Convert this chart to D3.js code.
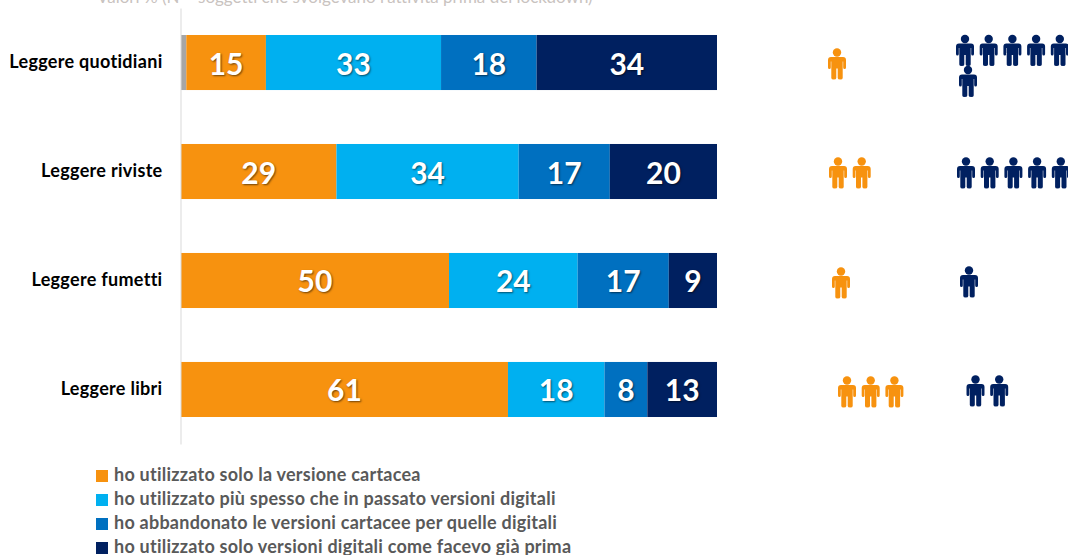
<!DOCTYPE html>
<html>
<head>
<meta charset="utf-8">
<script src="https://cdn.jsdelivr.net/npm/d3@7"></script>
<style>
  html, body { margin: 0; background: #fff; }
  svg { display: block; font-family: Lato, "Open Sans", sans-serif; }
  .value { text-shadow: 1px 1px 2px rgba(0,0,0,.55); }
</style>
</head>
<body>
<svg id="chart" width="1068" height="555"></svg>
<script>
const categories = ["Leggere quotidiani", "Leggere riviste", "Leggere fumetti", "Leggere libri"];
const seriesKeys = ["nd", "carta", "piuSpesso", "abbandonato", "soloDigitali"];

const ndValues           = [1, 0, 0, 0];
const cartaValues        = [15, 29, 50, 61];
const piuSpessoValues    = [33, 34, 24, 18];
const abbandonatoValues  = [18, 17, 17, 8];
const soloDigitaliValues = [34, 20, 9, 13];

const orangeIcons = [1, 2, 1, 3];
const navyIcons   = [6, 5, 1, 2];

const legendLabels = [
  "ho utilizzato solo la versione cartacea",
  "ho utilizzato più spesso che in passato versioni digitali",
  "ho abbandonato le versioni cartacee per quelle digitali",
  "ho utilizzato solo versioni digitali come facevo già prima"
];
const subtitle = "Valori % (N = soggetti che svolgevano l'attività prima del lockdown)";

const colors = {
  nd: "#a6a6a6", carta: "#f7920f", piuSpesso: "#00b0f0",
  abbandonato: "#0070c0", soloDigitali: "#002060"
};

const rows = categories.map((c, i) => ({
  category: c,
  nd: ndValues[i],
  carta: cartaValues[i],
  piuSpesso: piuSpessoValues[i],
  abbandonato: abbandonatoValues[i],
  soloDigitali: soloDigitaliValues[i]
}));

const svg = d3.select("#chart");

// row 1 adds up to 101, so each bar is normalised to the full width
const stacked = d3.stack().keys(seriesKeys).offset(d3.stackOffsetExpand)(rows);

const x = d3.scaleLinear().domain([0, 1]).range([181, 717]);
const y = d3.scaleBand().domain(categories).range([8, 444])
  .paddingInner(0.495).paddingOuter(0.2477);

svg.append("text")
  .attr("x", 97)
  .attr("y", 3)
  .attr("font-size", 17)
  .attr("fill", "#c9c3bf")
  .text(subtitle);

const layers = svg.selectAll("g.layer")
  .data(stacked)
  .join("g")
  .attr("class", "layer");

layers.selectAll("rect")
  .data(d => d.map(s => ({ key: d.key, s })))
  .join("rect")
  .attr("x", d => x(d.s[0]))
  .attr("y", d => y(d.s.data.category))
  .attr("width", d => x(d.s[1]) - x(d.s[0]))
  .attr("height", y.bandwidth())
  .attr("fill", d => colors[d.key]);

layers.filter(d => d.key !== "nd").selectAll("text")
  .data(d => d.map(s => ({ key: d.key, s })))
  .join("text")
  .attr("class", "value")
  .attr("x", d => x((d.s[0] + d.s[1]) / 2))
  .attr("y", d => y(d.s.data.category) + y.bandwidth() / 2)
  .attr("text-anchor", "middle")
  .attr("dominant-baseline", "central")
  .attr("font-size", 30)
  .attr("font-weight", 700)
  .attr("fill", "#fff")
  .text(d => d.s.data[d.key]);

const axis = svg.append("g")
  .attr("transform", "translate(180.5,0)")
  .call(d3.axisLeft(y).tickSize(0).tickPadding(18));
axis.select(".domain").attr("stroke", "#d9d9d9");
axis.selectAll("text")
  .attr("dy", "0.32em")
  .attr("font-family", "Lato, sans-serif")
  .attr("font-size", 18)
  .attr("letter-spacing", 0.3)
  .attr("font-weight", 700)
  .attr("fill", "#000");

// pictograms: layout of each group, one entry per row
const iconStep = 23.7;
const iconsPerLine = 5;
const iconLineHeight = 31;
const orangeStart = [837, 838, 841, 847];
const orangeMid   = [64, 173, 283, 392];
const navyStart   = [965, 966, 969, 975.5];
const navyMid     = [50.5, 173, 282, 391];
const navyWrapShift = 3;

const personPath = "M-6 -7H6Q9 -7 9 -4V3.5Q9 5 7.6 5Q6.2 5 6.2 3.5V-2.5H5.7V14Q5.7 15.5 3.3 15.5" +
  "Q0.7 15.5 0.7 14V4.5H-0.7V14Q-0.7 15.5 -3.3 15.5Q-5.7 15.5 -5.7 14V-2.5H-6.2V3.5" +
  "Q-6.2 5 -7.6 5Q-9 5 -9 3.5V-4Q-9 -7 -6 -7Z";

function iconSpots(counts, starts, mids, wrapShift) {
  return counts.flatMap((n, r) => d3.range(n).map(i => {
    const line = Math.floor(i / iconsPerLine);
    return {
      cx: starts[r] + (i % iconsPerLine) * iconStep + line * wrapShift,
      cy: mids[r] + line * iconLineHeight
    };
  }));
}

function drawIcons(spots, color) {
  const g = svg.append("g").selectAll("g")
    .data(spots)
    .join("g")
    .attr("transform", d => `translate(${d.cx},${d.cy})`)
    .attr("fill", color);
  g.append("circle").attr("cy", -11.5).attr("r", 4.2);
  g.append("path").attr("d", personPath);
}

drawIcons(iconSpots(orangeIcons, orangeStart, orangeMid, 0), colors.carta);
drawIcons(iconSpots(navyIcons, navyStart, navyMid, navyWrapShift), colors.soloDigitali);

// legend
const legendY = d3.scalePoint().domain(legendLabels).range([476, 548]);
const legendColors = [colors.carta, colors.piuSpesso, colors.abbandonato, colors.soloDigitali];

const legend = svg.selectAll("g.legend")
  .data(legendLabels)
  .join("g")
  .attr("class", "legend")
  .attr("transform", d => `translate(96,${legendY(d)})`);

legend.append("rect")
  .attr("y", -6)
  .attr("width", 12)
  .attr("height", 12)
  .attr("fill", (d, i) => legendColors[i]);

legend.append("text")
  .attr("x", 18)
  .attr("y", 5)
  .attr("font-size", 18)
  .attr("letter-spacing", 0.24)
  .attr("font-weight", 700)
  .attr("fill", "#595959")
  .text(d => d);
</script>
</body>
</html>
